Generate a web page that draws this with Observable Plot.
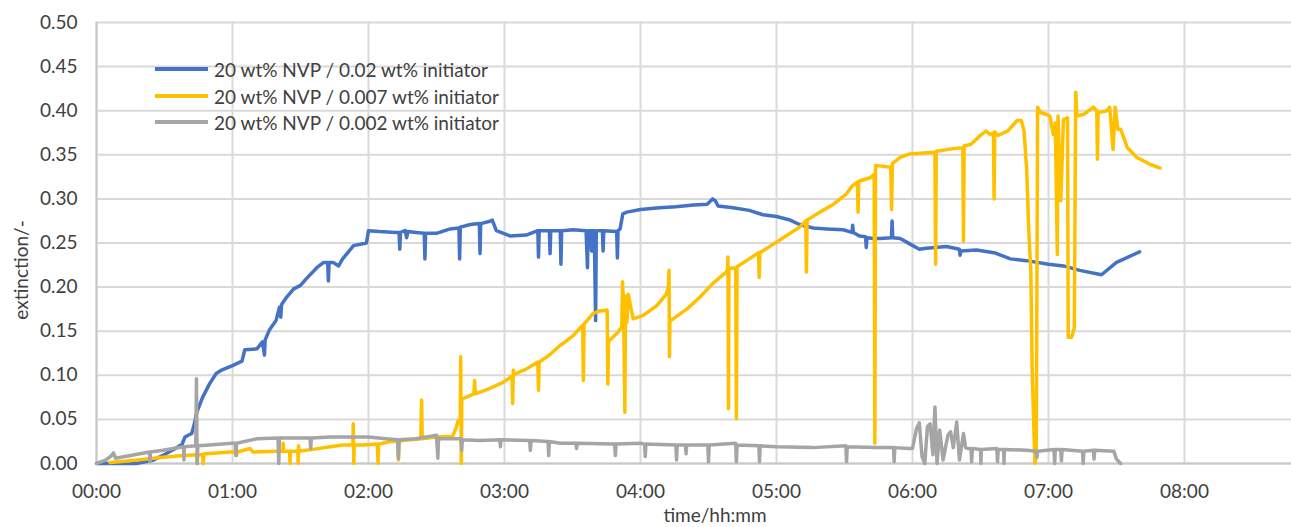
<!DOCTYPE html>
<html>
<head>
<meta charset="utf-8">
<script src="https://cdn.jsdelivr.net/npm/d3@7"></script>
<script src="https://cdn.jsdelivr.net/npm/@observablehq/plot@0.6"></script>
<style>
  html, body { margin: 0; padding: 0; background: #fff; }
  #wrap { position: relative; width: 1291px; height: 527px; overflow: hidden; font-family: Lato, "Open Sans", sans-serif; color: #404040; }
  .lg { position: absolute; left: 155px; font-size: 19px; display: flex; align-items: center; white-space: nowrap; line-height: 1; }
  .lg span.sw { display: inline-block; width: 53px; height: 3.5px; margin-right: 6px; }
  #ytitle { position: absolute; left: 20px; top: 270px; transform: translate(-50%, -50%) rotate(-90deg); font-size: 19px; white-space: nowrap; line-height: 1; }
  #xtitle { position: absolute; left: 715px; top: 514px; transform: translate(-50%, -50%); font-size: 19px; white-space: nowrap; line-height: 1; }
</style>
</head>
<body>
<div id="wrap"></div>
<script>
// ---- data (time in hours, extinction) ----
const seriesNames = ["20 wt% NVP / 0.02 wt% initiator", "20 wt% NVP / 0.007 wt% initiator", "20 wt% NVP / 0.002 wt% initiator"];
const seriesColors = ["#4472C4", "#FFC000", "#A5A5A5"];
const xTicks = [0, 1, 2, 3, 4, 5, 6, 7, 8];
const yTicks = [0, 0.05, 0.10, 0.15, 0.20, 0.25, 0.30, 0.35, 0.40, 0.45, 0.50];

const blueT = [0,0.15,0.29,0.36,0.42,0.51,0.58,0.63,0.65,0.70,0.72,0.735,0.78,0.83,0.88,0.92,1.00,1.07,1.09,1.18,1.22,1.235,1.24,1.27,1.32,1.345,1.355,1.36,1.40,1.45,1.50,1.54,1.62,1.67,1.70,1.705,1.71,1.74,1.78,1.81,1.89,1.985,2.0,2.08,2.2,2.225,2.23,2.235,2.27,2.28,2.29,2.35,2.41,2.415,2.42,2.5,2.6,2.665,2.67,2.675,2.75,2.815,2.82,2.825,2.9,2.91,2.94,3.04,3.16,3.245,3.25,3.255,3.33,3.335,3.34,3.41,3.415,3.42,3.505,3.6,3.61,3.615,3.635,3.64,3.645,3.66,3.67,3.675,3.72,3.725,3.73,3.825,3.83,3.835,3.85,3.87,3.90,4.0,4.14,4.26,4.39,4.49,4.53,4.55,4.57,4.68,4.80,4.90,5.0,5.1,5.17,5.27,5.37,5.49,5.555,5.56,5.565,5.61,5.655,5.66,5.665,5.71,5.76,5.845,5.85,5.855,5.91,5.98,6.05,6.10,6.25,6.345,6.35,6.355,6.47,6.6,6.72,6.84,7.0,7.11,7.23,7.39,7.5,7.67];
const blueV = [0,0,0,0.002,0.004,0.011,0.017,0.022,0.030,0.034,0.045,0.057,0.075,0.090,0.102,0.106,0.111,0.116,0.129,0.130,0.138,0.123,0.140,0.151,0.162,0.177,0.166,0.180,0.189,0.198,0.202,0.209,0.222,0.228,0.228,0.207,0.228,0.228,0.224,0.232,0.247,0.250,0.264,0.263,0.262,0.262,0.243,0.262,0.264,0.256,0.263,0.262,0.261,0.232,0.261,0.261,0.266,0.267,0.232,0.268,0.271,0.272,0.238,0.272,0.275,0.276,0.264,0.258,0.259,0.264,0.234,0.264,0.264,0.238,0.264,0.264,0.226,0.264,0.265,0.264,0.222,0.264,0.264,0.241,0.264,0.264,0.162,0.264,0.264,0.241,0.264,0.263,0.233,0.264,0.266,0.283,0.285,0.288,0.290,0.291,0.293,0.294,0.300,0.298,0.292,0.290,0.287,0.282,0.280,0.276,0.271,0.267,0.266,0.265,0.262,0.270,0.262,0.258,0.257,0.245,0.256,0.255,0.255,0.256,0.275,0.256,0.255,0.249,0.243,0.244,0.246,0.243,0.236,0.241,0.242,0.239,0.232,0.230,0.226,0.224,0.219,0.214,0.228,0.240];

const yellowT = [0.10,0.25,0.37,0.49,0.64,0.735,0.74,0.745,0.78,0.785,0.79,0.81,0.98,1.025,1.03,1.035,1.13,1.15,1.32,1.37,1.373,1.376,1.42,1.423,1.426,1.48,1.483,1.486,1.49,1.59,1.72,1.81,1.885,1.888,1.892,1.895,1.96,2.065,2.07,2.075,2.16,2.215,2.22,2.225,2.25,2.385,2.39,2.395,2.5,2.62,2.645,2.66,2.675,2.678,2.682,2.686,2.70,2.775,2.78,2.785,2.89,2.99,3.055,3.06,3.065,3.07,3.16,3.245,3.25,3.255,3.33,3.41,3.43,3.505,3.575,3.58,3.585,3.65,3.70,3.755,3.76,3.765,3.775,3.836,3.862,3.868,3.875,3.885,3.89,3.90,3.91,3.946,4.02,4.12,4.19,4.205,4.21,4.213,4.216,4.24,4.34,4.44,4.53,4.63,4.64,4.643,4.647,4.65,4.70,4.705,4.71,4.78,4.868,4.873,4.878,4.98,5.07,5.17,5.215,5.22,5.225,5.32,5.42,5.51,5.56,5.595,5.60,5.605,5.69,5.718,5.723,5.728,5.84,5.846,5.852,5.91,5.98,6.165,6.17,6.175,6.30,6.37,6.375,6.38,6.43,6.50,6.54,6.57,6.595,6.60,6.605,6.63,6.70,6.77,6.80,6.82,6.84,6.855,6.87,6.88,6.90,6.91,6.92,6.94,6.98,7.01,7.035,7.05,7.065,7.07,7.09,7.11,7.14,7.145,7.17,7.19,7.20,7.21,7.26,7.33,7.355,7.36,7.365,7.43,7.45,7.475,7.49,7.51,7.53,7.58,7.65,7.75,7.82];
const yellowV = [0.001,0.003,0.005,0.007,0.009,0.010,0.000,0.010,0.010,0.000,0.011,0.011,0.013,0.013,0.009,0.013,0.017,0.013,0.014,0.014,0.023,0.014,0.014,0.000,0.014,0.014,0.000,0.020,0.014,0.016,0.019,0.021,0.021,0.045,0.000,0.021,0.021,0.022,0.000,0.022,0.025,0.025,0.004,0.025,0.026,0.028,0.072,0.028,0.030,0.031,0.041,0.049,0.050,0.121,0.000,0.072,0.074,0.079,0.094,0.079,0.085,0.092,0.099,0.068,0.106,0.101,0.107,0.115,0.083,0.115,0.123,0.134,0.136,0.145,0.157,0.094,0.158,0.170,0.173,0.174,0.090,0.138,0.140,0.149,0.155,0.206,0.180,0.058,0.190,0.160,0.192,0.164,0.168,0.179,0.192,0.200,0.219,0.121,0.162,0.164,0.175,0.189,0.204,0.217,0.220,0.234,0.062,0.221,0.222,0.051,0.223,0.230,0.239,0.211,0.239,0.249,0.258,0.268,0.275,0.217,0.276,0.285,0.294,0.305,0.315,0.319,0.285,0.320,0.324,0.328,0.023,0.338,0.336,0.288,0.340,0.347,0.351,0.353,0.226,0.354,0.357,0.358,0.252,0.360,0.362,0.372,0.377,0.373,0.375,0.300,0.376,0.372,0.377,0.389,0.389,0.377,0.332,0.264,0.218,0.105,0.000,0.008,0.404,0.398,0.396,0.394,0.373,0.386,0.237,0.394,0.298,0.390,0.392,0.143,0.143,0.154,0.421,0.394,0.396,0.404,0.400,0.345,0.398,0.400,0.404,0.356,0.404,0.379,0.379,0.358,0.347,0.339,0.335];

const grayT = [0,0.07,0.11,0.125,0.14,0.25,0.39,0.393,0.396,0.49,0.64,0.643,0.646,0.73,0.735,0.74,0.745,0.83,1.0,1.02,1.025,1.03,1.18,1.335,1.34,1.345,1.57,1.575,1.58,1.72,2.0,2.13,2.215,2.22,2.225,2.35,2.5,2.51,2.515,2.68,2.685,2.69,2.82,2.965,2.97,2.975,3.185,3.19,3.195,3.32,3.325,3.33,3.41,3.525,3.53,3.535,3.81,3.815,3.82,4.0,4.03,4.035,4.04,4.26,4.265,4.27,4.33,4.335,4.34,4.495,4.5,4.505,4.70,4.705,4.71,4.87,4.875,4.88,5.0,5.27,5.51,5.515,5.52,5.73,5.86,5.865,5.87,5.97,6.00,6.03,6.05,6.07,6.09,6.11,6.13,6.15,6.165,6.18,6.20,6.225,6.26,6.28,6.30,6.325,6.345,6.375,6.39,6.41,6.43,6.435,6.44,6.5,6.503,6.506,6.62,6.625,6.63,6.67,6.673,6.676,6.84,6.91,6.915,6.92,7.04,7.045,7.05,7.09,7.095,7.10,7.25,7.255,7.26,7.33,7.335,7.34,7.48,7.50,7.53];
const grayV = [0,0.004,0.009,0.012,0.006,0.009,0.013,0.002,0.013,0.015,0.019,0.004,0.019,0.020,0.096,0.000,0.020,0.021,0.023,0.023,0.009,0.023,0.028,0.029,0.000,0.029,0.029,0.017,0.029,0.030,0.030,0.028,0.027,0.006,0.027,0.028,0.032,0.006,0.028,0.028,0.015,0.027,0.026,0.027,0.019,0.027,0.026,0.015,0.026,0.025,0.009,0.025,0.023,0.023,0.017,0.023,0.022,0.009,0.022,0.023,0.022,0.008,0.022,0.021,0.004,0.021,0.021,0.011,0.021,0.021,0.002,0.021,0.023,0.002,0.021,0.020,0.002,0.020,0.019,0.018,0.020,0.002,0.019,0.018,0.018,0.002,0.018,0.017,0.017,0.040,0.046,0.008,0.000,0.042,0.045,0.010,0.064,0.000,0.038,0.004,0.032,0.036,0.018,0.047,0.004,0.034,0.018,0.017,0.017,0.002,0.017,0.016,0.000,0.016,0.017,0.002,0.016,0.016,0.000,0.016,0.015,0.014,0.007,0.014,0.016,0.000,0.016,0.016,0.003,0.016,0.014,0.000,0.014,0.015,0.005,0.015,0.014,0.005,0.000];

const toRows = (T, V) => T.map((t, i) => ({t, v: V[i]}));
const blue = toRows(blueT, blueV);
const yellow = toRows(yellowT, yellowV);
const gray = toRows(grayT, grayV);

const fmtTime = h => String(h).padStart(2, "0") + ":00";

const chart = Plot.plot({
  width: 1291,
  height: 527,
  marginLeft: 96,
  marginRight: 0,
  marginTop: 22,
  marginBottom: 64,
  style: {fontFamily: "Lato, 'Open Sans', sans-serif", fontSize: "19px", color: "#404040", background: "white"},
  x: {domain: [0, 9], range: [96, 96 + 9 * 136], label: null},
  y: {domain: [0, 0.5], label: null},
  marks: [
    Plot.gridX(xTicks, {stroke: "#d9d9d9", strokeOpacity: 1, strokeWidth: 2}),
    Plot.gridY(yTicks, {stroke: "#d9d9d9", strokeOpacity: 1, strokeWidth: 2}),
    Plot.ruleX([0], {stroke: "#c8c8c8", strokeWidth: 2}),
    Plot.ruleY([0], {stroke: "#c8c8c8", strokeWidth: 2}),
    Plot.axisX(xTicks, {tickSize: 0, tickPadding: 21, tickFormat: fmtTime, label: null, fill: "#404040"}),
    Plot.axisY(yTicks, {tickSize: 0, tickPadding: 19, tickFormat: d3.format(".2f"), label: null, fill: "#404040"}),
    Plot.line(blue, {x: "t", y: "v", stroke: seriesColors[0], strokeWidth: 3.5}),
    Plot.line(yellow, {x: "t", y: "v", stroke: seriesColors[1], strokeWidth: 3.5}),
    Plot.line(gray, {x: "t", y: "v", stroke: seriesColors[2], strokeWidth: 3.5})
  ]
});

const wrap = document.getElementById("wrap");
wrap.appendChild(chart);

const legendTops = [69, 96, 122];
seriesNames.forEach((name, i) => {
  const d = document.createElement("div");
  d.className = "lg";
  d.style.top = (legendTops[i] - 12) + "px";
  d.style.height = "24px";
  const sw = document.createElement("span");
  sw.className = "sw";
  sw.style.background = seriesColors[i];
  const tx = document.createElement("span");
  tx.textContent = name;
  d.appendChild(sw);
  d.appendChild(tx);
  wrap.appendChild(d);
});

const yt = document.createElement("div");
yt.id = "ytitle";
yt.textContent = "extinction/-";
wrap.appendChild(yt);
const xt = document.createElement("div");
xt.id = "xtitle";
xt.textContent = "time/hh:mm";
wrap.appendChild(xt);
</script>
</body>
</html>
